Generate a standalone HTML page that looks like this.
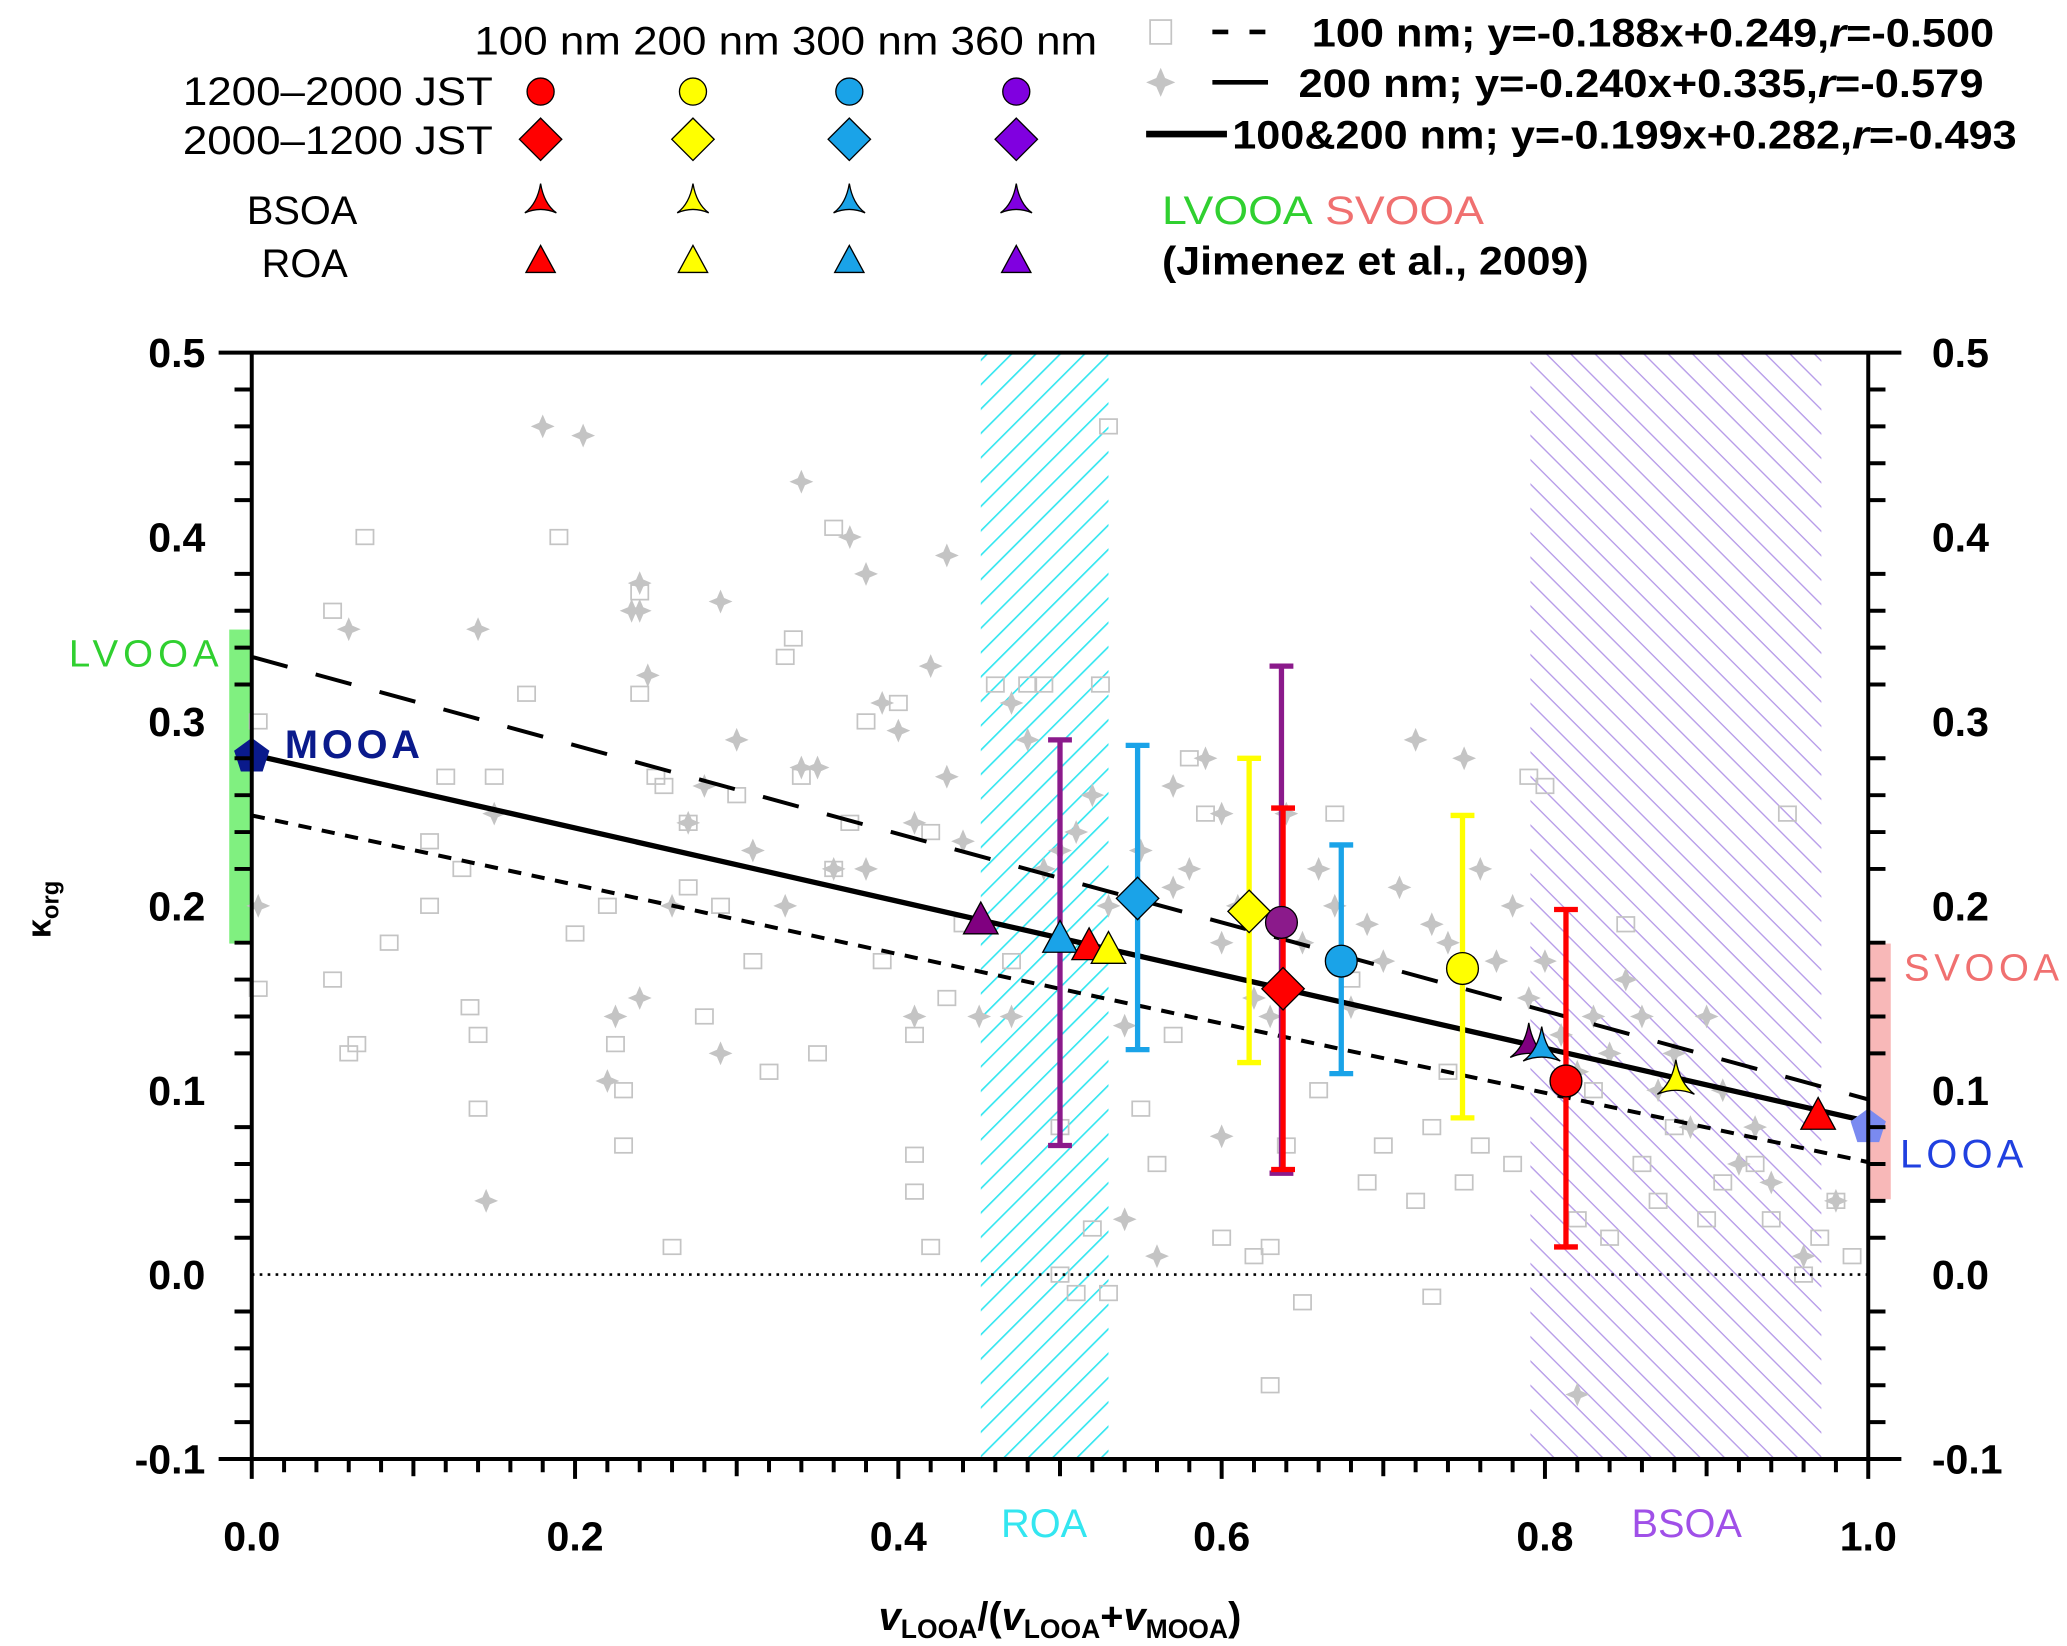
<!DOCTYPE html>
<html><head><meta charset="utf-8"><style>
html,body{margin:0;padding:0;background:#fff;}
svg{display:block;font-family:"Liberation Sans",Arial,sans-serif;}
</style></head><body>
<svg id="chart" width="2067" height="1646" viewBox="0 0 1560 1242" xmlns="http://www.w3.org/2000/svg">
<defs>
<pattern id="hatchRoa" patternUnits="userSpaceOnUse" width="13" height="13" patternTransform="rotate(45)">
<line x1="0" y1="0" x2="0" y2="13" stroke="#33e6f0" stroke-width="2.5"/></pattern>
<pattern id="hatchBsoa" patternUnits="userSpaceOnUse" width="13" height="13" patternTransform="rotate(45)">
<line x1="0" y1="0" x2="13" y2="0" stroke="#b59ae8" stroke-width="2"/></pattern>
</defs>
<g id="plot"></g>
<g id="legend"></g>
</svg>
<script>
// ---- data ----
const squaresX=[0.004,0.004,0.05,0.07,0.05,0.06,0.065,0.085,0.11,0.11,0.12,0.13,0.135,0.14,0.14,0.17,0.15,0.19,0.2,0.22,0.225,0.23,0.23,0.24,0.24,0.25,0.255,0.26,0.27,0.27,0.28,0.29,0.3,0.31,0.32,0.33,0.335,0.34,0.35,0.36,0.36,0.37,0.38,0.39,0.4,0.41,0.41,0.41,0.42,0.42,0.43,0.44,0.46,0.47,0.48,0.49,0.5,0.5,0.51,0.52,0.53,0.525,0.53,0.55,0.56,0.57,0.58,0.59,0.6,0.62,0.63,0.63,0.64,0.65,0.66,0.67,0.68,0.69,0.7,0.72,0.73,0.73,0.74,0.75,0.76,0.78,0.79,0.8,0.82,0.83,0.84,0.85,0.86,0.87,0.88,0.9,0.91,0.93,0.94,0.95,0.97,0.98,0.99,0.96];
const squaresY=[0.3,0.155,0.36,0.4,0.16,0.12,0.125,0.18,0.235,0.2,0.27,0.22,0.145,0.13,0.09,0.315,0.27,0.4,0.185,0.2,0.125,0.1,0.07,0.37,0.315,0.27,0.265,0.015,0.245,0.21,0.14,0.2,0.26,0.17,0.11,0.335,0.345,0.27,0.12,0.22,0.405,0.245,0.3,0.17,0.31,0.13,0.065,0.045,0.015,0.24,0.15,0.19,0.32,0.17,0.32,0.32,0.08,0.0,-0.01,0.025,-0.01,0.32,0.46,0.09,0.06,0.13,0.28,0.25,0.02,0.01,-0.06,0.015,0.07,-0.015,0.1,0.25,0.16,0.05,0.07,0.04,0.08,-0.012,0.11,0.05,0.07,0.06,0.27,0.265,0.03,0.1,0.02,0.19,0.06,0.04,0.08,0.03,0.05,0.06,0.03,0.25,0.02,0.04,0.01,0.0];
const starsX=[0.004,0.06,0.14,0.145,0.15,0.18,0.205,0.22,0.225,0.235,0.24,0.24,0.24,0.245,0.26,0.27,0.28,0.29,0.29,0.3,0.31,0.33,0.34,0.35,0.34,0.36,0.37,0.38,0.38,0.39,0.4,0.41,0.41,0.42,0.43,0.43,0.44,0.45,0.47,0.48,0.49,0.5,0.51,0.52,0.53,0.54,0.55,0.56,0.57,0.57,0.58,0.59,0.6,0.6,0.61,0.62,0.63,0.64,0.65,0.66,0.67,0.68,0.69,0.7,0.71,0.72,0.73,0.74,0.75,0.76,0.77,0.78,0.79,0.8,0.81,0.82,0.83,0.84,0.85,0.86,0.87,0.88,0.89,0.9,0.91,0.92,0.93,0.94,0.96,0.98,0.82,0.6,0.54,0.47];
const starsY=[0.2,0.35,0.35,0.04,0.25,0.46,0.455,0.105,0.14,0.36,0.375,0.36,0.15,0.325,0.2,0.245,0.265,0.365,0.12,0.29,0.23,0.2,0.275,0.275,0.43,0.22,0.4,0.38,0.22,0.31,0.295,0.245,0.14,0.33,0.39,0.27,0.235,0.14,0.31,0.29,0.22,0.23,0.24,0.26,0.2,0.03,0.23,0.01,0.265,0.21,0.22,0.28,0.25,0.18,0.2,0.15,0.14,0.25,0.18,0.22,0.2,0.145,0.19,0.17,0.21,0.29,0.19,0.18,0.28,0.22,0.17,0.2,0.15,0.17,0.13,0.11,0.14,0.12,0.16,0.14,0.1,0.12,0.08,0.14,0.1,0.06,0.08,0.05,0.01,0.04,-0.065,0.075,0.135,0.14];
const fitSlopes=[-0.188,-0.240,-0.199];
const fitIntercepts=[0.249,0.335,0.282];
const markerNames=["roa-360","roa-300","roa-100","roa-200","night-300","night-200","day-360","night-100","day-300","day-200","bsoa-360","bsoa-300","day-100","bsoa-200","bsoa-100"];
const markerShapes=["tri","tri","tri","tri","dia","dia","circ","dia","circ","circ","arrow","arrow","circ","arrow","tri"];
const markerColors=["#800080","#1aa3e8","#ff0000","#ffff00","#1aa3e8","#ffff00","#8b1a8b","#ff0000","#1aa3e8","#ffff00","#800080","#1aa3e8","#ff0000","#ffff00","#ff0000"];
const markerX=[0.451,0.5,0.518,0.53,0.548,0.617,0.637,0.638,0.674,0.749,0.79,0.798,0.813,0.881,0.969];
const markerY=[0.192,0.182,0.178,0.176,0.204,0.197,0.191,0.155,0.170,0.166,0.125,0.123,0.105,0.105,0.086];
const errX=[0.5,0.548,0.617,0.637,0.638,0.674,0.749,0.813];
const errLow=[0.07,0.122,0.115,0.055,0.057,0.109,0.085,0.015];
const errHigh=[0.29,0.287,0.28,0.33,0.253,0.233,0.249,0.198];
const errColors=["#8b1a8b","#1aa3e8","#ffff00","#8b1a8b","#ff0000","#1aa3e8","#ffff00","#ff0000"];
const yTicks=[-0.1,0.0,0.1,0.2,0.3,0.4,0.5];
const yTickLabels=["-0.1","0.0","0.1","0.2","0.3","0.4","0.5"];
const xTicks=[0,0.2,0.4,0.6,0.8,1.0];
const xTickLabels=["0.0","0.2","0.4","0.6","0.8","1.0"];

const NS="http://www.w3.org/2000/svg";
const X0=190,X1=1410,YT=266,YB=1101;
const xs=v=>X0+v*(X1-X0);
const ys=v=>YB-(v+0.1)/0.6*(YB-YT);
function mk(tag,attrs,parent){const e=document.createElementNS(NS,tag);for(const k in attrs)e.setAttribute(k,attrs[k]);parent.appendChild(e);return e;}
const P=document.getElementById('plot');
const L=document.getElementById('legend');

let r=mk('rect',{x:xs(0.451),y:YT,width:xs(0.53)-xs(0.451),height:YB-YT,fill:'url(#hatchRoa)'},P);

r=mk('rect',{x:xs(0.791),y:YT,width:xs(0.971)-xs(0.791),height:YB-YT,fill:'url(#hatchBsoa)'},P);

r=mk('rect',{x:173,y:475,width:17,height:237,fill:'#80f080'},P);

r=mk('rect',{x:1410,y:712,width:17,height:193,fill:'#f8b8b8'},P);


function starPath(cx,cy,s){return `M${cx},${cy-s} L${cx+s*0.3},${cy-s*0.3} L${cx+s},${cy} L${cx+s*0.3},${cy+s*0.3} L${cx},${cy+s} L${cx-s*0.3},${cy+s*0.3} L${cx-s},${cy} L${cx-s*0.3},${cy-s*0.3}Z`;}
for(let i=0;i<squaresX.length;i++){
  const e=mk('rect',{x:xs(squaresX[i])-6.5,y:ys(squaresY[i])-5.5,width:13,height:11,fill:'none',stroke:'#c4c4c4','stroke-width':1.3},P);
  
  
}
for(let i=0;i<starsX.length;i++){
  const e=mk('path',{d:starPath(xs(starsX[i]),ys(starsY[i]),9),fill:'#c4c4c4'},P);
  
  
}
let z=mk('line',{x1:X0,y1:ys(0),x2:X1,y2:ys(0),stroke:'#000','stroke-width':2,'stroke-dasharray':'2 4'},P);

const fitDash=['10 8','28 22',''];const fitNames=['fit-100nm','fit-200nm','fit-100-200nm'];const fitW=[3,3,4];
for(let i=0;i<3;i++){
  const e=mk('line',{x1:xs(0),y1:ys(fitIntercepts[i]),x2:xs(1),y2:ys(fitSlopes[i]+fitIntercepts[i]),stroke:'#000','stroke-width':fitW[i],'stroke-dasharray':fitDash[i]},P);
  
  
}
for(let i=0;i<errX.length;i++){
  const g=mk('g',{stroke:errColors[i],'stroke-width':4},P);
  
  
  const x=xs(errX[i]);
  mk('line',{x1:x,y1:ys(errLow[i]),x2:x,y2:ys(errHigh[i])},g);
  mk('line',{x1:x-9,y1:ys(errLow[i]),x2:x+9,y2:ys(errLow[i])},g);
  mk('line',{x1:x-9,y1:ys(errHigh[i]),x2:x+9,y2:ys(errHigh[i])},g);
}
function shape(kind,cx,cy,color,parent,s){
  s=s||1;
  if(kind==='circ')return mk('circle',{cx:cx,cy:cy,r:12*s,fill:color,stroke:'#000','stroke-width':1},parent);
  if(kind==='dia')return mk('path',{d:`M${cx},${cy-16*s} L${cx+16*s},${cy} L${cx},${cy+16*s} L${cx-16*s},${cy}Z`,fill:color,stroke:'#000','stroke-width':1},parent);
  if(kind==='tri')return mk('path',{d:`M${cx},${cy-14*s} L${cx+13*s},${cy+10*s} L${cx-13*s},${cy+10*s}Z`,fill:color,stroke:'#000','stroke-width':1},parent);
  if(kind==='arrow')return mk('path',{d:`M${cx},${cy-16*s} Q${cx+3*s},${cy+2*s} ${cx+14*s},${cy+10*s} Q${cx},${cy+4*s} ${cx-14*s},${cy+10*s} Q${cx-3*s},${cy+2*s} ${cx},${cy-16*s}Z`,fill:color,stroke:'#000','stroke-width':1},parent);
  if(kind==='pent'){let p=[];for(let k=0;k<5;k++){const a=-Math.PI/2+k*2*Math.PI/5;p.push((cx+14*Math.cos(a))+','+(cy+14*Math.sin(a)));}return mk('polygon',{points:p.join(' '),fill:color},parent);}
}
for(let i=0;i<markerX.length;i++){
  const e=shape(markerShapes[i],xs(markerX[i]),ys(markerY[i]),markerColors[i],P);
  
  
}
let pm=shape('pent',xs(0),ys(0.281),'#0a1a8c',P);

pm=shape('pent',xs(1),ys(0.08),'#7a8af0',P);


const ax=mk('g',{stroke:'#000','stroke-width':3,fill:'none'},P);

mk('line',{x1:165,y1:YT,x2:1435,y2:YT},ax);
mk('line',{x1:165,y1:YB,x2:1435,y2:YB},ax);
mk('line',{x1:X0,y1:YT,x2:X0,y2:YB+15},ax);
mk('line',{x1:X1,y1:YT,x2:X1,y2:YB+15},ax);
for(let k=0;k<=30;k++){
  const v=-0.1+k*0.02, y=ys(v), major=(k%5===0);
  if(major)continue;
  mk('line',{x1:177,y1:y,x2:X0,y2:y},ax);
  mk('line',{x1:X1,y1:y,x2:1423,y2:y},ax);
}
for(let k=1;k<50;k++){
  const v=k*0.02,x=xs(v);
  const len=(k%10===0)?15:(k%5===0?13:10);
  mk('line',{x1:x,y1:YB,x2:x,y2:YB+len},ax);
}
function txt(s,attrs,parent,name){const e=mk('text',attrs,parent);e.textContent=s;return e;}
for(let i=0;i<yTicks.length;i++){
  txt(yTickLabels[i],{x:155,y:ys(yTicks[i])+11,'text-anchor':'end','font-size':31,'font-weight':'bold'},P,'y-tick-label');
  txt(yTickLabels[i],{x:1458,y:ys(yTicks[i])+11,'font-size':31,'font-weight':'bold'},P,'y2-tick-label');
}
for(let i=0;i<xTicks.length;i++){
  txt(xTickLabels[i],{x:xs(xTicks[i]),y:1170,'text-anchor':'middle','font-size':31,'font-weight':'bold'},P,'x-tick-label');
}
txt('ROA',{x:788,y:1160,'text-anchor':'middle','font-size':30,fill:'#33e6f0'},P,'roa-label');
txt('BSOA',{x:1273,y:1160,'text-anchor':'middle','font-size':30,fill:'#a050e8'},P,'bsoa-label');
txt('LVOOA',{x:52,y:503,'font-size':29,fill:'#30d030',textLength:113},P,'lvooa-label');
txt('MOOA',{x:215,y:572,'font-size':30,'font-weight':'bold',fill:'#0a1a8c',textLength:102},P,'mooa-label');
txt('SVOOA',{x:1437,y:740,'font-size':29,fill:'#f07070',textLength:117},P,'svooa-label');
txt('LOOA',{x:1434,y:881,'font-size':30,fill:'#2040e0',textLength:93},P,'looa-label');
const xt=txt('',{x:800,y:1230,'text-anchor':'middle','font-size':30,'font-weight':'bold'},P,'x-axis-title');
xt.innerHTML='<tspan font-style="italic">v</tspan><tspan font-size="20" dy="6">LOOA</tspan><tspan dy="-6">/(</tspan><tspan font-style="italic">v</tspan><tspan font-size="20" dy="6">LOOA</tspan><tspan dy="-6">+</tspan><tspan font-style="italic">v</tspan><tspan font-size="20" dy="6">MOOA</tspan><tspan dy="-6">)</tspan>';
const yt=txt('',{x:0,y:0,'font-size':26,'font-weight':'bold',transform:'translate(38,708) rotate(-90)'},P,'y-axis-title');
yt.innerHTML='κ<tspan font-size="18" dy="6">org</tspan>';

txt('100 nm 200 nm 300 nm 360 nm',{x:358,y:41,'font-size':30,textLength:470,lengthAdjust:'spacingAndGlyphs'},L,'legend-size-header');
txt('1200–2000 JST',{x:138,y:79,'font-size':30,textLength:234,lengthAdjust:'spacingAndGlyphs'},L,'legend-day-label');
txt('2000–1200 JST',{x:138,y:116,'font-size':30,textLength:234,lengthAdjust:'spacingAndGlyphs'},L,'legend-night-label');
txt('BSOA',{x:228,y:169,'text-anchor':'middle','font-size':30},L,'legend-bsoa-label');
txt('ROA',{x:230,y:209,'text-anchor':'middle','font-size':30},L,'legend-roa-label');
const legCols=[408,523,641,767];
const legColors=["#ff0000","#ffff00","#1aa3e8","#8000e0"];
const legRows=[['circ',69],['dia',105],['arrow',152],['tri',197]];
for(const [k,y] of legRows){for(let c=0;c<4;c++){
  const e=shape(k,legCols[c],y,legColors[c],L,k==='circ'?0.85:(k==='dia'?1.0:0.85));
  
  
}}
let e=mk('rect',{x:868,y:15,width:16,height:18,fill:'none',stroke:'#c4c4c4','stroke-width':1.3},L);

e=mk('line',{x1:915,y1:24,x2:968,y2:24,stroke:'#000','stroke-width':3.5,'stroke-dasharray':'12 16'},L);

const t1=txt('',{x:990,y:35,'font-size':30,'font-weight':'bold',textLength:515,lengthAdjust:'spacingAndGlyphs'},L,'legend-fit-100nm');
t1.innerHTML='100 nm; y=-0.188x+0.249,<tspan font-style="italic">r</tspan>=-0.500';
e=mk('path',{d:starPath(876,62,11),fill:'#c4c4c4'},L);

e=mk('line',{x1:915,y1:62,x2:957,y2:62,stroke:'#000','stroke-width':3.5},L);

const t2=txt('',{x:980,y:73,'font-size':30,'font-weight':'bold',textLength:517,lengthAdjust:'spacingAndGlyphs'},L,'legend-fit-200nm');
t2.innerHTML='200 nm; y=-0.240x+0.335,<tspan font-style="italic">r</tspan>=-0.579';
e=mk('line',{x1:865,y1:101,x2:926,y2:101,stroke:'#000','stroke-width':5},L);

const t3=txt('',{x:930,y:112,'font-size':30,'font-weight':'bold',textLength:592,lengthAdjust:'spacingAndGlyphs'},L,'legend-fit-combined');
t3.innerHTML='100&amp;200 nm; y=-0.199x+0.282,<tspan font-style="italic">r</tspan>=-0.493';
const t4=txt('',{x:877,y:169,'font-size':30,textLength:243,lengthAdjust:'spacingAndGlyphs'},L,'legend-jimenez-ranges');
t4.innerHTML='<tspan fill="#30d030">LVOOA</tspan> <tspan fill="#f07070">SVOOA</tspan>';
txt('(Jimenez et al., 2009)',{x:877,y:207,'font-size':30,'font-weight':'bold',textLength:322,lengthAdjust:'spacingAndGlyphs'},L,'legend-citation');
</script>
</body></html>
